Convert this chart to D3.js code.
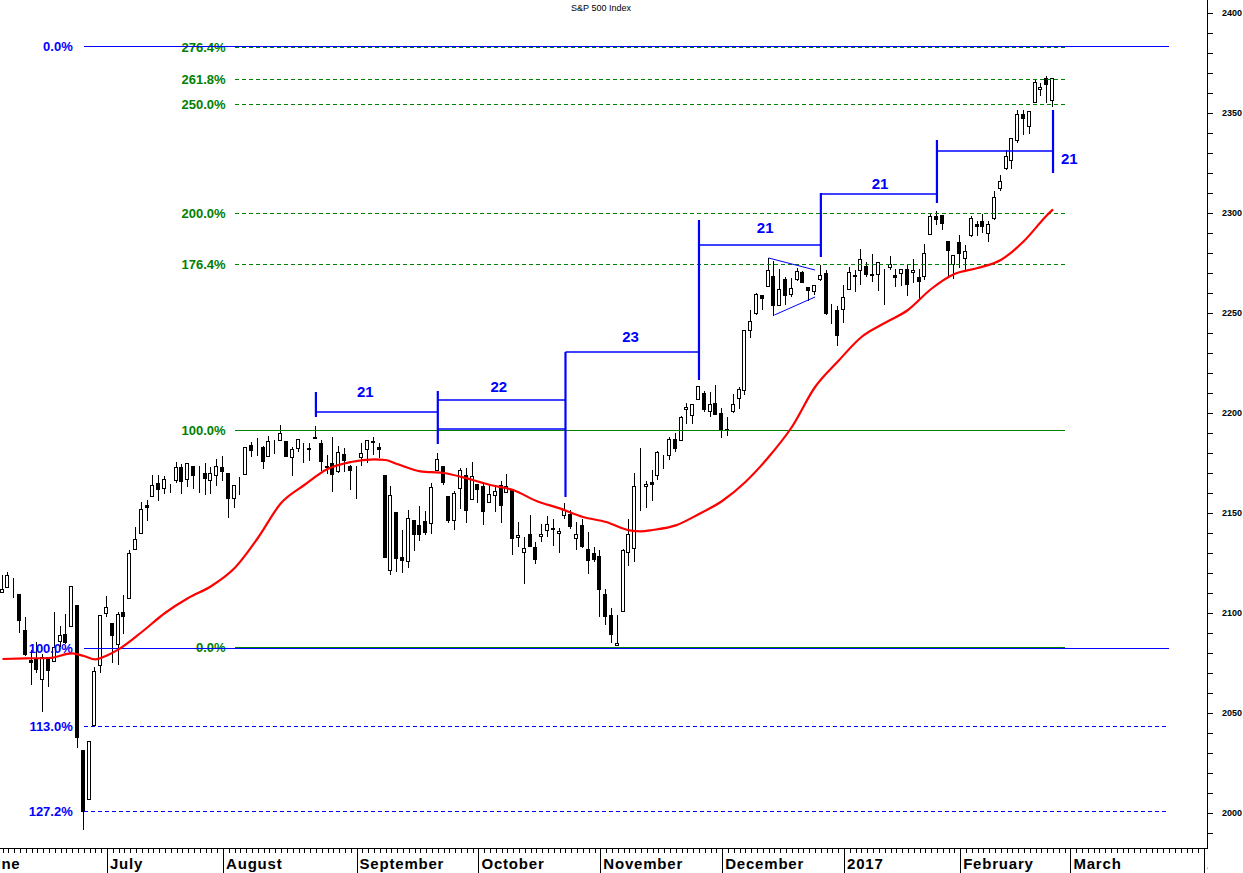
<!DOCTYPE html>
<html>
<head>
<meta charset="utf-8">
<script src="https://cdn.jsdelivr.net/npm/d3@7"></script>
<style>
  body { margin: 0; background: #fff; }
  text { font-family: Arial, "Liberation Sans", sans-serif; }
</style>
</head>
<body>
<div id="chart"></div>
<script>
// S&P 500 daily candles, Jun 7 2016 .. Feb 24 2017
var dates = [
  "2016-06-07","2016-06-08","2016-06-09","2016-06-10","2016-06-13","2016-06-14","2016-06-15","2016-06-16","2016-06-17",
  "2016-06-20","2016-06-21","2016-06-22","2016-06-23","2016-06-24","2016-06-27","2016-06-28","2016-06-29","2016-06-30",
  "2016-07-01","2016-07-05","2016-07-06","2016-07-07","2016-07-08","2016-07-11","2016-07-12","2016-07-13","2016-07-14",
  "2016-07-15","2016-07-18","2016-07-19","2016-07-20","2016-07-21","2016-07-22","2016-07-25","2016-07-26","2016-07-27",
  "2016-07-28","2016-07-29",
  "2016-08-01","2016-08-02","2016-08-03","2016-08-04","2016-08-05","2016-08-08","2016-08-09","2016-08-10","2016-08-11",
  "2016-08-12","2016-08-15","2016-08-16","2016-08-17","2016-08-18","2016-08-19","2016-08-22","2016-08-23","2016-08-24",
  "2016-08-25","2016-08-26","2016-08-29","2016-08-30","2016-08-31",
  "2016-09-01","2016-09-02","2016-09-06","2016-09-07","2016-09-08","2016-09-09","2016-09-12","2016-09-13","2016-09-14",
  "2016-09-15","2016-09-16","2016-09-19","2016-09-20","2016-09-21","2016-09-22","2016-09-23","2016-09-26","2016-09-27",
  "2016-09-28","2016-09-29","2016-09-30",
  "2016-10-03","2016-10-04","2016-10-05","2016-10-06","2016-10-07","2016-10-10","2016-10-11","2016-10-12","2016-10-13",
  "2016-10-14","2016-10-17","2016-10-18","2016-10-19","2016-10-20","2016-10-21","2016-10-24","2016-10-25","2016-10-26",
  "2016-10-27","2016-10-28","2016-10-31",
  "2016-11-01","2016-11-02","2016-11-03","2016-11-04","2016-11-07","2016-11-08","2016-11-09","2016-11-10","2016-11-11",
  "2016-11-14","2016-11-15","2016-11-16","2016-11-17","2016-11-18","2016-11-21","2016-11-22","2016-11-23","2016-11-25",
  "2016-11-28","2016-11-29","2016-11-30",
  "2016-12-01","2016-12-02","2016-12-05","2016-12-06","2016-12-07","2016-12-08","2016-12-09","2016-12-12","2016-12-13",
  "2016-12-14","2016-12-15","2016-12-16","2016-12-19","2016-12-20","2016-12-21","2016-12-22","2016-12-23","2016-12-27",
  "2016-12-28","2016-12-29","2016-12-30",
  "2017-01-03","2017-01-04","2017-01-05","2017-01-06","2017-01-09","2017-01-10","2017-01-11","2017-01-12","2017-01-13",
  "2017-01-17","2017-01-18","2017-01-19","2017-01-20","2017-01-23","2017-01-24","2017-01-25","2017-01-26","2017-01-27",
  "2017-01-30","2017-01-31",
  "2017-02-01","2017-02-02","2017-02-03","2017-02-06","2017-02-07","2017-02-08","2017-02-09","2017-02-10","2017-02-13",
  "2017-02-14","2017-02-15","2017-02-16","2017-02-17","2017-02-21","2017-02-22","2017-02-23","2017-02-24"
];

var opens = [
  2110.18,2112.71,2115.65,2109.57,2091.75,2076.65,2077.60,2066.36,2078.20,2075.58,2085.19,2089.75,2092.80,2103.81,2031.45,2006.67,2043.21,2073.17,
  2099.34,2095.05,2084.43,2100.42,2106.97,2131.72,2139.50,2153.81,2157.88,2165.13,2162.04,2163.79,2166.10,2172.91,2166.47,2173.71,2168.97,2169.81,2166.05,2168.83,
  2173.15,2169.94,2156.81,2163.51,2168.79,2183.76,2182.24,2182.81,2177.97,2183.74,2186.08,2186.24,2177.84,2181.90,2184.24,2181.58,2187.81,2185.09,2173.29,2175.10,2170.19,2179.45,2173.56,
  2171.33,2177.49,2181.61,2185.17,2182.76,2169.08,2120.86,2150.47,2127.86,2125.36,2146.48,2143.99,2145.94,2144.58,2170.94,2173.29,2158.54,2146.04,2161.85,2168.90,2156.51,
  2164.33,2163.37,2155.15,2158.22,2164.19,2160.39,2161.35,2137.67,2130.26,2139.68,2132.95,2138.31,2140.81,2142.51,2139.43,2148.50,2149.72,2136.97,2144.06,2132.23,2129.78,
  2128.68,2109.43,2098.80,2083.79,2100.59,2129.92,2131.56,2167.49,2162.71,2165.64,2168.29,2177.53,2178.61,2186.85,2186.43,2201.56,2198.55,2206.27,2210.21,2200.76,2204.97,
  2200.17,2191.12,2200.65,2207.26,2210.72,2241.13,2249.73,2258.83,2263.32,2268.35,2253.77,2266.81,2259.24,2266.50,2270.54,2262.93,2260.25,2266.23,2270.23,2249.50,2251.61,
  2251.57,2261.60,2268.18,2271.14,2273.59,2269.72,2268.60,2271.14,2272.74,2269.14,2269.14,2271.90,2269.96,2267.78,2267.88,2288.88,2298.63,2299.02,2286.01,2274.02,
  2285.59,2276.69,2288.54,2294.28,2295.87,2289.55,2296.70,2312.27,2321.72,2326.12,2335.58,2349.64,2343.01,2354.91,2361.11,2367.50,2355.73
];

var highs = [
  2119.22,2120.55,2117.64,2109.57,2098.12,2081.30,2085.65,2079.62,2078.20,2100.66,2093.66,2099.71,2113.32,2103.81,2031.45,2036.09,2073.13,2098.94,
  2108.71,2095.05,2100.72,2109.08,2131.71,2143.16,2155.40,2156.45,2168.99,2169.05,2168.35,2164.63,2175.63,2174.56,2175.11,2173.71,2173.54,2174.98,2172.85,2177.09,
  2178.29,2170.20,2163.79,2168.19,2182.87,2185.44,2187.66,2183.41,2188.45,2186.28,2193.81,2186.24,2183.08,2187.03,2185.00,2185.15,2193.42,2186.66,2179.00,2187.94,2183.48,2182.27,2173.79,
  2173.56,2184.87,2186.57,2187.87,2184.94,2169.08,2163.30,2150.47,2141.33,2151.31,2146.48,2153.61,2150.80,2165.11,2179.99,2173.75,2158.54,2161.13,2172.40,2172.67,2175.30,
  2164.41,2165.46,2163.95,2162.93,2165.86,2169.60,2161.56,2145.36,2138.19,2149.19,2135.61,2144.38,2148.44,2147.18,2142.63,2154.79,2151.44,2145.73,2147.13,2140.72,2133.25,
  2131.45,2111.76,2102.56,2099.07,2132.00,2146.87,2170.10,2182.30,2165.92,2171.36,2180.84,2179.22,2188.06,2189.89,2198.70,2204.80,2204.72,2213.35,2211.14,2210.46,2214.10,
  2202.60,2197.95,2209.42,2212.78,2241.63,2251.69,2259.80,2258.99,2277.53,2276.20,2272.12,2268.05,2267.47,2272.56,2271.23,2263.18,2263.79,2273.82,2271.31,2254.51,2253.58,
  2263.88,2272.82,2271.50,2282.10,2275.49,2279.27,2275.32,2271.78,2278.68,2272.08,2272.01,2274.33,2276.96,2271.78,2284.63,2299.55,2300.99,2299.02,2286.01,2279.09,
  2289.14,2283.97,2298.31,2296.18,2299.40,2295.91,2311.08,2319.23,2331.58,2337.58,2351.30,2351.31,2351.16,2366.71,2365.13,2368.26,2367.34
];

var lows = [
  2110.18,2112.71,2107.73,2089.96,2078.46,2064.10,2069.80,2050.37,2062.84,2075.58,2083.02,2084.36,2092.80,2032.57,1991.68,2006.67,2043.21,2070.00,
  2097.90,2075.00,2074.02,2089.39,2106.97,2131.72,2139.50,2146.21,2157.88,2155.79,2159.63,2159.87,2165.13,2159.75,2163.24,2161.95,2160.18,2159.07,2159.74,2163.49,
  2166.21,2147.58,2152.61,2159.07,2168.79,2177.85,2178.61,2172.00,2177.97,2179.42,2186.08,2178.14,2168.50,2180.46,2175.13,2175.96,2186.80,2171.25,2169.74,2160.39,2170.19,2170.41,2161.35,
  2157.09,2173.59,2175.10,2179.07,2177.49,2127.81,2119.12,2120.27,2119.90,2122.36,2131.20,2135.91,2139.17,2139.57,2170.94,2163.97,2145.04,2141.55,2151.79,2145.20,2156.51,
  2154.77,2144.01,2155.15,2150.28,2144.85,2160.39,2128.84,2132.77,2114.72,2132.98,2124.43,2135.49,2138.15,2133.44,2130.09,2146.91,2141.93,2131.59,2132.52,2119.36,2125.53,
  2097.85,2094.00,2085.23,2083.79,2100.59,2123.56,2125.35,2151.17,2152.49,2156.08,2166.38,2172.20,2176.65,2180.38,2186.43,2194.51,2194.51,2206.27,2200.36,2198.15,2198.81,
  2187.44,2188.37,2199.97,2202.21,2208.93,2237.57,2249.23,2251.37,2263.32,2248.44,2253.77,2254.24,2258.21,2266.14,2265.15,2256.08,2258.84,2266.15,2249.11,2244.56,2233.62,
  2245.13,2261.60,2260.45,2264.06,2268.04,2265.27,2260.83,2254.25,2271.51,2262.81,2263.35,2258.41,2265.01,2257.02,2266.68,2288.88,2294.08,2291.62,2268.04,2267.21,
  2272.44,2271.65,2287.88,2288.57,2290.16,2285.38,2296.61,2311.10,2321.42,2322.17,2334.81,2338.87,2339.58,2354.91,2358.34,2355.09,2352.87
];

var closes = [
  2112.13,2119.12,2115.48,2096.07,2079.06,2075.32,2071.50,2077.99,2071.22,2083.25,2088.90,2085.45,2113.32,2037.41,2000.54,2036.09,2070.77,2098.86,
  2102.95,2088.55,2099.73,2097.90,2129.90,2137.16,2152.14,2152.43,2163.75,2161.74,2166.89,2163.78,2173.02,2165.17,2175.03,2168.48,2169.18,2166.58,2170.06,2173.60,
  2170.84,2157.03,2163.79,2164.25,2182.87,2180.89,2181.74,2175.49,2185.79,2184.05,2190.15,2178.15,2182.22,2187.02,2183.87,2182.64,2186.90,2175.44,2172.47,2169.04,2180.38,2176.12,2170.95,
  2170.86,2179.98,2186.48,2186.16,2181.30,2127.81,2159.04,2127.02,2125.77,2147.26,2139.16,2139.12,2139.76,2163.12,2177.18,2164.69,2146.10,2159.93,2171.37,2151.13,2168.27,
  2161.20,2150.49,2159.73,2160.77,2153.74,2163.66,2136.73,2139.18,2132.55,2132.98,2126.50,2139.60,2144.29,2141.34,2141.16,2151.33,2143.16,2139.43,2133.04,2126.41,2126.15,
  2111.72,2097.94,2088.66,2085.18,2131.52,2139.56,2163.26,2167.48,2164.45,2164.20,2180.39,2176.94,2187.12,2181.90,2198.18,2202.94,2204.72,2213.35,2201.72,2204.66,2198.81,
  2191.08,2191.95,2204.71,2212.23,2241.35,2246.19,2259.53,2256.96,2271.72,2253.28,2262.03,2258.07,2262.53,2270.76,2265.18,2260.96,2263.79,2268.88,2249.92,2249.26,2238.83,
  2257.83,2270.75,2269.00,2276.98,2268.90,2268.90,2275.32,2270.44,2274.64,2267.89,2271.89,2263.69,2271.31,2265.20,2280.07,2298.37,2296.68,2294.69,2280.90,2278.87,
  2279.55,2280.85,2297.42,2292.56,2293.08,2294.67,2307.87,2316.10,2328.25,2337.58,2349.25,2347.22,2351.16,2365.38,2362.82,2363.81,2367.34
];

// red moving average at these candle indices
var maIdx = [0,4,8,12,14,16,18,20,24,28,32,36,40,44,48,52,56,60,64,66,68,72,76,80,84,88,92,96,100,104,
  108,110,112,116,120,124,128,132,136,140,144,148,152,156,160,164,168,172,176,180,181];
var maValues = [2077,2077.3,2077.5,2079.8,2078.5,2076.8,2078.8,2081.8,2090.5,2100,2107.5,2113.5,2122.5,2137.5,2155,2164,
  2172,2175.5,2176.8,2176.5,2174.5,2170.8,2170,2167.3,2164,2161.5,2156,2152.3,2148,2145.5,
  2141.3,2140.8,2141.5,2143.8,2149.5,2156,2165.5,2178,2193,2213,2226,2238,2245,2251.5,2262,2269.5,2272.5,2276.5,2286,2299,2301.8];

// fibonacci levels
var blueFibLabels = ["0.0%", "100.0%", "113.0%", "127.2%"];
var blueFibValues = [2383.5, 2082.5, 2043.5, 2001];
var blueFibFrom = 14, blueFibTo = 201;
var greenFibLabels = ["0.0%", "100.0%", "176.4%", "200.0%", "250.0%", "261.8%", "276.4%"];
var greenFibValues = [2083, 2191.5, 2274.5, 2300, 2354.5, 2367, 2383];
var greenFibFrom = 40, greenFibTo = 183;

// cycle count brackets
var cycleFrom = [54, 75, 97, 120, 141, 161];
var cycleTo = [75, 97, 120, 141, 161, 181];
var cycleLevel = [2200.5, 2206.5, 2230.5, 2284, 2309.5, 2331];
var cycleLabels = ["21", "22", "23", "21", "21", "21"];
var cycleLabelIdx = [62.5, 85.5, 108.2, 131.4, 151.2, 183.8];
var cycleLabelVal = [2211, 2213.5, 2238.5, 2293, 2315, 2327.5];
var markIdx = [54, 75, 97, 120, 141, 161, 181];
var markTop = [2210.5, 2211, 2230.5, 2296.5, 2310, 2336.5, 2351.5];
var markBottom = [2198, 2184.5, 2158, 2216.5, 2278, 2305, 2320];

// triangle in december
var triUpper = [[132, 2277.5], [140, 2271.5]];
var triLower = [[133, 2249], [140, 2258]];

// x axis: month names and index of first trading day
var monthNames = ["June", "July", "August", "September", "October", "November", "December", "2017", "February", "March", "April"];
var monthStart = [-4, 18, 38, 61, 82, 103, 124, 145, 165, 184, 207];

var W = 1243, H = 873;
var plotRight = 1207, plotBottom = 848;
var blue = "#0000ff", green = "#008000";

var x = d3.scaleLinear().domain([0, 181]).range([2.5, 2.5 + 181 * 5.804]);
var y = d3.scaleLinear().domain([2000, 2400]).range([813, 13]);

var svg = d3.select("#chart").append("svg")
  .attr("width", W)
  .attr("height", H)
  .style("background", "#fff");

var defs = svg.append("defs");
defs.append("clipPath").attr("id", "plotClip")
  .append("rect").attr("x", 0).attr("y", 0).attr("width", plotRight).attr("height", plotBottom);
defs.append("clipPath").attr("id", "axisClip")
  .append("rect").attr("x", 0).attr("y", 0).attr("width", plotRight + 1).attr("height", H);

// title
svg.append("text")
  .attr("x", 601).attr("y", 11)
  .attr("text-anchor", "middle")
  .style("font-size", "9px")
  .text("S&P 500 Index");

var plot = svg.append("g").attr("clip-path", "url(#plotClip)");

// candles
var candles = dates.map(function(d, i) {
  return { i: i, o: opens[i], h: highs[i], l: lows[i], c: closes[i] };
});

var cg = plot.append("g").attr("shape-rendering", "crispEdges");
cg.selectAll("line.wick")
  .data(candles)
  .enter()
  .append("line")
  .attr("class", "wick")
  .attr("x1", function(d) { return Math.round(x(d.i)) - 0.5; })
  .attr("x2", function(d) { return Math.round(x(d.i)) - 0.5; })
  .attr("y1", function(d) { return y(d.h); })
  .attr("y2", function(d) { return y(d.l); })
  .attr("stroke", "#000");

cg.selectAll("rect.body")
  .data(candles)
  .enter()
  .append("rect")
  .attr("class", "body")
  .attr("x", function(d) { return Math.round(x(d.i)) - 2.5; })
  .attr("width", 3)
  .attr("y", function(d) { return Math.round(y(Math.max(d.o, d.c))) + 0.5; })
  .attr("height", function(d) { return Math.max(0, Math.round(Math.abs(y(d.o) - y(d.c))) - 1); })
  .attr("fill", function(d) { return d.c >= d.o ? "#fff" : "#000"; })
  .attr("stroke", "#000");

// green fib levels
var lg = plot.append("g");
greenFibValues.forEach(function(v, k) {
  var solid = greenFibLabels[k] == "0.0%" || greenFibLabels[k] == "100.0%";
  lg.append("line")
    .attr("x1", x(greenFibFrom)).attr("x2", x(greenFibTo))
    .attr("y1", Math.round(y(v)) + 0.5).attr("y2", Math.round(y(v)) + 0.5)
    .attr("stroke", green)
    .attr("stroke-width", solid ? 1.3 : 1)
    .attr("shape-rendering", "crispEdges")
    .attr("stroke-dasharray", solid ? null : "4,3");
  lg.append("text")
    .attr("x", x(greenFibFrom) - 9).attr("y", y(v))
    .attr("text-anchor", "end")
    .attr("dominant-baseline", "central")
    .style("font-size", "13px").style("font-weight", "bold")
    .attr("fill", green)
    .text(greenFibLabels[k]);
});

// blue fib levels
blueFibValues.forEach(function(v, k) {
  var solid = blueFibLabels[k] == "0.0%" || blueFibLabels[k] == "100.0%";
  lg.append("line")
    .attr("x1", x(blueFibFrom)).attr("x2", x(blueFibTo))
    .attr("y1", Math.round(y(v)) + 0.5).attr("y2", Math.round(y(v)) + 0.5)
    .attr("stroke", blue)
    .attr("stroke-width", solid ? 1.3 : 1)
    .attr("shape-rendering", "crispEdges")
    .attr("stroke-dasharray", solid ? null : "4,3");
  lg.append("text")
    .attr("x", x(blueFibFrom) - 11).attr("y", y(v))
    .attr("text-anchor", "end")
    .attr("dominant-baseline", "central")
    .style("font-size", "13px").style("font-weight", "bold")
    .attr("fill", blue)
    .text(blueFibLabels[k]);
});

// blue line over the 100% level along the 2nd bracket
plot.append("line")
  .attr("x1", x(75)).attr("x2", x(97))
  .attr("y1", y(2192)).attr("y2", y(2192))
  .attr("stroke", blue).attr("stroke-width", 1.5);

// moving average
var maLine = d3.line()
  .x(function(d) { return x(d[0]); })
  .y(function(d) { return y(d[1]); })
  .curve(d3.curveMonotoneX);

plot.append("path")
  .datum(maIdx.map(function(d, i) { return [d, maValues[i]]; }))
  .attr("d", maLine)
  .attr("fill", "none")
  .attr("stroke", "#ff0000")
  .attr("stroke-width", 2.2);

// cycle brackets
cycleFrom.forEach(function(s, k) {
  plot.append("line")
    .attr("x1", x(s)).attr("x2", x(cycleTo[k]))
    .attr("y1", y(cycleLevel[k])).attr("y2", y(cycleLevel[k]))
    .attr("stroke", blue).attr("stroke-width", 1.5);
  plot.append("text")
    .attr("x", x(cycleLabelIdx[k])).attr("y", y(cycleLabelVal[k]))
    .attr("text-anchor", "middle")
    .attr("dominant-baseline", "central")
    .style("font-size", "15px").style("font-weight", "bold")
    .attr("fill", blue)
    .text(cycleLabels[k]);
});
markIdx.forEach(function(m, k) {
  plot.append("line")
    .attr("x1", x(m)).attr("x2", x(m))
    .attr("y1", y(markTop[k])).attr("y2", y(markBottom[k]))
    .attr("stroke", blue).attr("stroke-width", 2.2);
});

// triangle
[triUpper, triLower].forEach(function(t) {
  plot.append("line")
    .attr("x1", x(t[0][0])).attr("y1", y(t[0][1]))
    .attr("x2", x(t[1][0])).attr("y2", y(t[1][1]))
    .attr("stroke", blue).attr("stroke-width", 1);
});

// bottom axis
var xg = svg.append("g").attr("clip-path", "url(#axisClip)");
xg.append("g")
  .attr("transform", "translate(0," + plotBottom + ")")
  .call(d3.axisBottom(x).tickValues(d3.range(-4, 208)).tickSize(5).tickFormat(""))
  .call(function(g) { g.select(".domain").remove(); });
xg.append("g")
  .attr("transform", "translate(0," + plotBottom + ")")
  .call(d3.axisBottom(x).tickValues(monthStart).tickSize(25).tickFormat(""))
  .call(function(g) { g.select(".domain").remove(); });
xg.selectAll("text.month")
  .data(monthNames)
  .enter()
  .append("text")
  .attr("class", "month")
  .attr("x", function(d, i) { return x(monthStart[i]) + 3; })
  .attr("y", 869)
  .style("font-size", "15px").style("font-weight", "bold")
  .style("letter-spacing", "0.8px")
  .text(function(d) { return d; });
xg.selectAll(".tick line").attr("stroke", "#000").attr("shape-rendering", "crispEdges");

svg.append("line")
  .attr("x1", 0).attr("x2", plotRight + 0.5)
  .attr("y1", plotBottom + 0.5).attr("y2", plotBottom + 0.5)
  .attr("stroke", "#000");

// right axis
var yg = svg.append("g")
  .attr("transform", "translate(" + plotRight + ",0)")
  .call(d3.axisRight(y)
    .tickValues(d3.range(1990, 2401, 10))
    .tickSize(6)
    .tickPadding(9)
    .tickFormat(function(d) { return d % 50 === 0 ? d : ""; }));
yg.select(".domain").remove();
yg.selectAll("text").style("font-size", "9px").style("font-weight", "bold").attr("fill", "#000");
svg.append("line")
  .attr("x1", plotRight + 0.5).attr("x2", plotRight + 0.5)
  .attr("y1", 0).attr("y2", plotBottom + 1)
  .attr("stroke", "#000");
</script>
</body>
</html>
